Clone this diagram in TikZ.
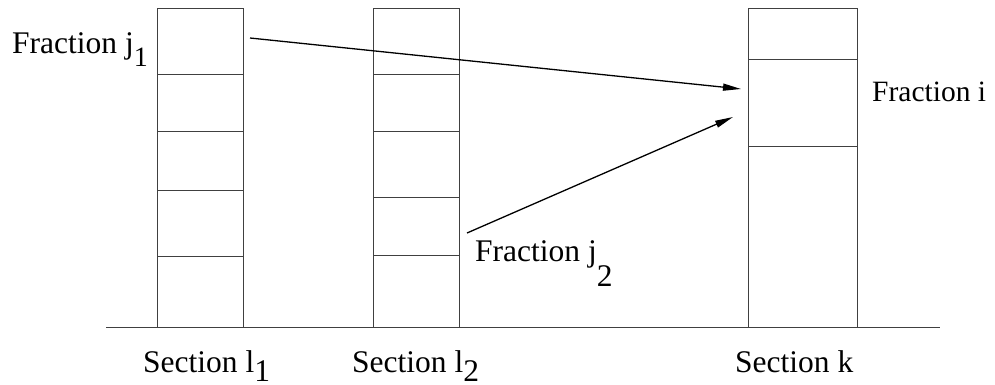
\documentclass[tikz,border=0pt]{standalone}
\usepackage{fontspec}
\setmainfont{Liberation Serif}
\usetikzlibrary{arrows.meta}
\newcommand\lowsub[3]{\raisebox{-#1pt}{\fontsize{#2}{#2}\selectfont #3}}
\begin{document}
\begin{tikzpicture}[x=1pt,y=-1pt,
  cell/.style={draw=black!75,line width=0.9pt,inner sep=0pt,outer sep=0pt,rectangle},
  lbl/.style={anchor=base west,inner sep=0pt,font=\fontsize{31.5}{36}\selectfont},
  flow/.style={line width=1.3pt,-{Triangle[length=18pt,width=7pt]}}]
\useasboundingbox (0,0) rectangle (995,385);
% column 1
\foreach \n/\t/\b in {1/8/74,2/74/131,3/131/190,4/190/256,5/256/327}
  \node[cell,minimum width=86pt,minimum height={\b-\t}] (a\n) at (200,{(\t+\b)/2}) {};
% column 2
\foreach \n/\t/\b in {1/8/74,2/74/131,3/131/197,4/197/255,5/255/327}
  \node[cell,minimum width=86pt,minimum height={\b-\t}] (b\n) at (416,{(\t+\b)/2}) {};
% column 3
\foreach \n/\t/\b in {1/8/59,2/59/146,3/146/327}
  \node[cell,minimum width=109pt,minimum height={\b-\t}] (c\n) at (802.5,{(\t+\b)/2}) {};
% ground line
\coordinate (g1) at (106,327);
\coordinate (g2) at (940,327);
\draw[line width=0.9pt,black!75] (g1) -- (g2);
% labels
\node[lbl] (fj1) at (12,54) {Fraction j\lowsub{13}{28}{1}};
\node[lbl,font=\fontsize{29.5}{34}\selectfont] (fi) at (872,102) {Fraction i};
\node[lbl] (fj2) at (475,261) {Fraction j\lowsub{25}{31.5}{2}};
\node[lbl] (s1) at (143,372) {Section l\lowsub{9}{31.5}{1}};
\node[lbl] (s2) at (352,372) {Section l\lowsub{9}{31.5}{2}};
\node[lbl] (sk) at (735,372) {Section k};
% arrows
\coordinate (p1) at (250,38);
\coordinate (q1) at (741,89);
\coordinate (p2) at (467,233);
\coordinate (q2) at (733,117);
\draw[flow] (p1) -- (q1);
\draw[flow] (p2) -- (q2);
\end{tikzpicture}
\end{document}
